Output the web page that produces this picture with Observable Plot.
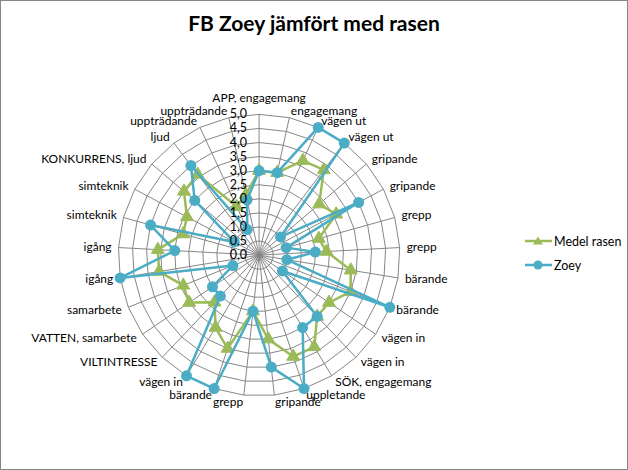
<!DOCTYPE html>
<html><head><meta charset="utf-8">
<script src="https://cdn.jsdelivr.net/npm/d3@7"></script>
<script src="https://cdn.jsdelivr.net/npm/@observablehq/plot@0.6"></script>
<style>
body{margin:0;background:#fff;}
#wrap{position:relative;width:628px;height:470px;box-sizing:border-box;border:1px solid #868686;font-family:Lato,"Noto Sans",sans-serif;overflow:hidden;background:#fff;}
#title{position:absolute;top:9px;left:0;width:626px;text-align:center;font-weight:700;font-size:21px;color:#000;}
#chart{position:absolute;left:-1px;top:39px;}
#legend{position:absolute;left:523px;top:228px;font-size:12.5px;color:#000;}
.item{display:flex;align-items:center;height:24px;}
.item svg{margin-right:1px;}
</style></head><body>
<div id="wrap"><div id="title">FB Zoey jämfört med rasen</div><div id="chart"></div><div id="legend"></div></div>
<script>
const categories = ["APP, engagemang","engagemang","vägen ut","vägen ut","gripande","gripande","grepp","grepp","bärande","bärande","vägen in","vägen in","SÖK, engagemang","uppletande","gripande","grepp","bärande","vägen in","VILTINTRESSE","VATTEN, samarbete","samarbete","igång","igång","simteknik","simteknik","KONKURRENS, ljud","ljud","uppträdande","uppträdande"];
const medelRasen = [3.0,3.0,3.7,3.8,2.8,3.1,2.2,2.4,3.3,3.5,3.0,3.0,3.8,3.8,3.0,2.0,3.5,3.0,2.3,3.0,2.9,3.6,3.6,2.8,2.9,3.5,3.6,1.9,2.2];
const zoey = [3.0,3.0,5.0,5.0,1.0,4.0,1.0,2.0,1.0,5.0,1.0,3.0,3.0,5.0,4.0,2.0,5.0,5.0,2.0,2.0,1.0,5.0,3.0,4.0,1.0,3.0,4.0,1.0,2.0];
const tickValues = [0,0.5,1,1.5,2,2.5,3,3.5,4,4.5,5];
const tickLabels = ["0,0","0,5","1,0","1,5","2,0","2,5","3,0","3,5","4,0","4,5","5,0"];
const seriesNames = ["Medel rasen","Zoey"];
const seriesColors = ["#9BBB59","#4BACC6"];

const N = categories.length;
const maxV = d3.max(tickValues);
const ang = i => i * 2 * Math.PI / N;
const px = (i, v) => v * Math.sin(ang(i));
const py = (i, v) => v * Math.cos(ang(i));
const rows = vals => vals.map((v, i) => ({i, v}));
const closed = vals => [...rows(vals), {i: 0, v: vals[0]}];
const ringRows = tickValues.filter(t => t > 0).flatMap(t => d3.range(N + 1).map(k => ({t, i: k % N})));
const catIdx = d3.range(N);
const labelR = maxV * 148 / 141;
const P = {x: d => px(d.i, d.v), y: d => py(d.i, d.v)};
const L = {x: i => px(i, labelR), y: i => py(i, labelR), text: i => categories[i], fill: "#000", lineAnchor: "middle"};

const plot = Plot.plot({
  width: 628, height: 431,
  marginLeft: 118, marginRight: 228, marginTop: 74, marginBottom: 75,
  x: {domain: [-maxV, maxV], axis: null},
  y: {domain: [-maxV, maxV], axis: null},
  style: {fontFamily: "Lato, sans-serif", fontSize: "12px", color: "#000", background: "transparent", overflow: "visible"},
  marks: [
    Plot.line(ringRows, {x: d => px(d.i, d.t), y: d => py(d.i, d.t), z: "t", stroke: "#868686", strokeWidth: 1}),
    Plot.link(catIdx, {x1: 0, y1: 0, x2: i => px(i, maxV), y2: i => py(i, maxV), stroke: "#868686", strokeWidth: 1}),
    Plot.line(closed(medelRasen), {...P, stroke: seriesColors[0], strokeWidth: 2.5}),
    Plot.dot(rows(medelRasen), {...P, symbol: "triangle", r: 4.8, fill: seriesColors[0], stroke: seriesColors[0], strokeWidth: 1}),
    Plot.line(closed(zoey), {...P, stroke: seriesColors[1], strokeWidth: 2.5}),
    Plot.dot(rows(zoey), {...P, symbol: "circle", r: 5.5, fill: seriesColors[1]}),
    Plot.text(tickValues, {x: 0, y: d => d, text: (d, j) => tickLabels[j], textAnchor: "end", dx: -12, fill: "#000", fontSize: 12.5}),
    Plot.text(catIdx.filter(i => i === 0), {...L, textAnchor: "middle", dy: -9}),
    Plot.text(catIdx.filter(i => i > 0 && i <= (N - 1) / 2), {...L, textAnchor: "start"}),
    Plot.text(catIdx.filter(i => i > (N - 1) / 2), {...L, textAnchor: "end"})
  ]
});
document.getElementById("chart").appendChild(plot);

const legend = document.getElementById("legend");
seriesNames.forEach((name, k) => {
  const item = document.createElement("div");
  item.className = "item";
  const sym = k === 0
    ? `<path d="M14,1.5 L19,9.5 L9,9.5 Z" fill="${seriesColors[k]}"/>`
    : `<circle cx="14" cy="6" r="4.5" fill="${seriesColors[k]}"/>`;
  item.innerHTML = `<svg width="29" height="12"><line x1="1" y1="6" x2="28" y2="6" stroke="${seriesColors[k]}" stroke-width="2.5"/>${sym}</svg><span>${name}</span>`;
  legend.appendChild(item);
});
</script>
</body></html>
